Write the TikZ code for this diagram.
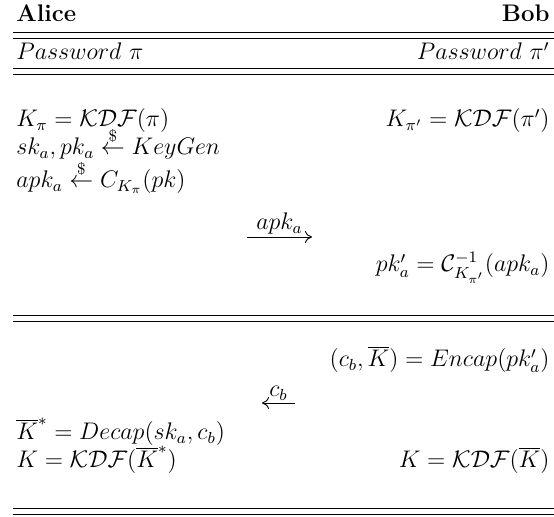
\documentclass[tikz,border=0pt]{standalone}
\usepackage{amsmath}
\usepackage{amssymb}
\usepackage{tikz}
\usetikzlibrary{positioning, arrows.meta}

\begin{document}
\begin{tikzpicture}[
                x=1pt, y=1pt,
                font=\large,
                party/.style={font=\large\bfseries, inner sep=0pt},
                left_step/.style={anchor=base west, inner sep=0pt},
                right_step/.style={anchor=base east, inner sep=0pt},
                msg_flow/.style={->, >={To[length=3.5pt, width=6pt]}, line width=0.45pt},
                msg_label/.style={above, inner sep=1pt},
                rule_line/.style={line width=0.45pt}
            ]
                \useasboundingbox (0,0) rectangle (277,-258.5);

                % Header
                \node[party, left_step] (alice) at (8,-10.8) {Alice};
                \node[party, right_step] (bob) at (275,-10.8) {Bob};
                \node[left_step] (pwa) at (8,-30) {$Password\ \pi$};
                \node[right_step] (pwb) at (275,-30) {$Password\ \pi'$};

                % Double rules
                \foreach \y in {-16, -34, -157.5, -254} {
                    \draw[rule_line] (6.5,\y) -- (277,\y);
                    \draw[rule_line] (6.5,\y-3.4) -- (277,\y-3.4);
                }

                % Round 1
                \node[left_step] (kpia) at (8,-63.5) {$K_\pi = \mathcal{KDF}(\pi)$};
                \node[right_step] (kpib) at (275,-63.5) {$K_{\pi'} = \mathcal{KDF}(\pi')$};
                \node[left_step] (keygen) at (8,-77.5) {$sk_a, pk_a \overset{\$}{\leftarrow} KeyGen$};
                \node[left_step] (apk) at (8,-94) {$apk_a \overset{\$}{\leftarrow} C_{K_\pi}(pk)$};
                \coordinate (send1) at (123.5,-118.5);
                \coordinate (recv1) at (156,-118.5);
                \draw[msg_flow] (send1) -- node[msg_label] (m1) {$apk_a$} (recv1);
                \node[right_step] (pkb) at (275,-136) {$pk'_a = \mathcal{C}^{-1}_{K_{\pi'}}(apk_a)$};

                % Round 2
                \node[right_step] (encap) at (275,-183.5) {$(c_b, \overline{K}) = Encap(pk'_a)$};
                \coordinate (send2) at (147.5,-201.5);
                \coordinate (recv2) at (131,-201.5);
                \draw[msg_flow] (send2) -- node[msg_label] (m2) {$c_b$} (recv2);
                \node[left_step] (decap) at (8,-220) {$\overline{K}^* = Decap(sk_a, c_b)$};
                \node[left_step] (ka) at (8,-234) {$K = \mathcal{KDF}(\overline{K}^*)$};
                \node[right_step] (kb) at (275,-234) {$K = \mathcal{KDF}(\overline{K})$};

            \end{tikzpicture}
\end{document}
